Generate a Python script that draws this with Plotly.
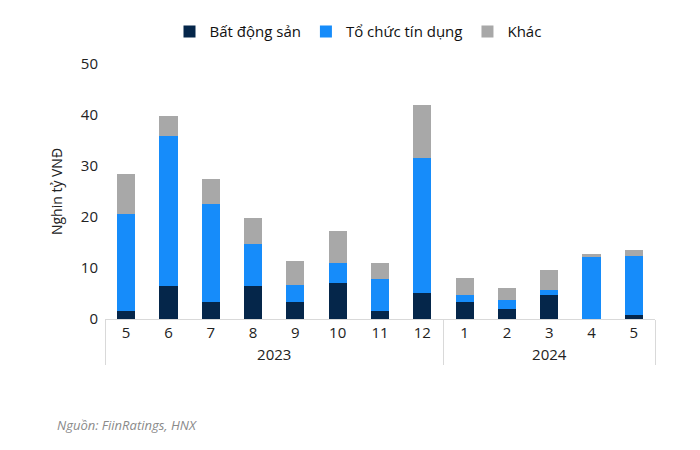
import plotly.graph_objects as go

years = ["2023"] * 8 + ["2024"] * 5
months = ["5", "6", "7", "8", "9", "10", "11", "12", "1", "2", "3", "4", "5\u200b"]

bat_dong_san = [1.6, 6.5, 3.3, 6.5, 3.3, 7.0, 1.6, 5.1, 3.4, 2.0, 4.7, 0.0, 0.8]
to_chuc_tin_dung = [19.0, 29.4, 19.2, 8.2, 3.4, 4.0, 6.2, 26.5, 1.3, 1.7, 1.0, 12.2, 11.5]
khac = [7.8, 3.9, 5.0, 5.1, 4.7, 6.3, 3.2, 10.4, 3.3, 2.4, 3.9, 0.5, 1.2]

series_names = ["Bất động sản", "Tổ chức tín dụng", "Khác"]
colors = ["#05264a", "#168cfa", "#a8a8a8"]

fig = go.Figure()
for name, vals, col in zip(series_names, [bat_dong_san, to_chuc_tin_dung, khac], colors):
    fig.add_trace(go.Bar(x=[years, months], y=vals, name=name, marker_color=col,
                         marker_line_width=0))

fig.update_layout(
    barmode="stack",
    bargap=0.57,
    width=700, height=450,
    paper_bgcolor="white", plot_bgcolor="white",
    margin=dict(l=97, r=53, t=56, b=139),
    font=dict(family="Open Sans", size=14, color="#222222"),
    legend=dict(orientation="h", x=0.5, xanchor="center", xref="container",
                y=0.947, yanchor="middle", yref="container",
                font=dict(size=15, color="#111111"), traceorder="normal"),
    xaxis=dict(showline=True, linecolor="#d9d9d9", linewidth=1, showdividers=True,
               dividercolor="#d9d9d9", dividerwidth=1, automargin=False,
               tickfont=dict(size=15, color="#222222"), ticks=""),
    yaxis=dict(range=[0, 50], dtick=10, showgrid=False, zeroline=False, automargin=False,
               tickfont=dict(size=15, color="#222222"), ticklabelstandoff=6,
               title=dict(text="Nghin tỷ VNĐ", font=dict(size=14, color="#222222"), standoff=14)),
)

fig.add_annotation(text="<i>Nguồn: FiinRatings, HNX</i>", xref="paper", yref="paper",
                   x=-0.091, y=-0.416, xanchor="left", yanchor="middle", showarrow=False,
                   font=dict(size=13, color="#8a8a8a", family="Open Sans"))

fig.write_html("out.html")
